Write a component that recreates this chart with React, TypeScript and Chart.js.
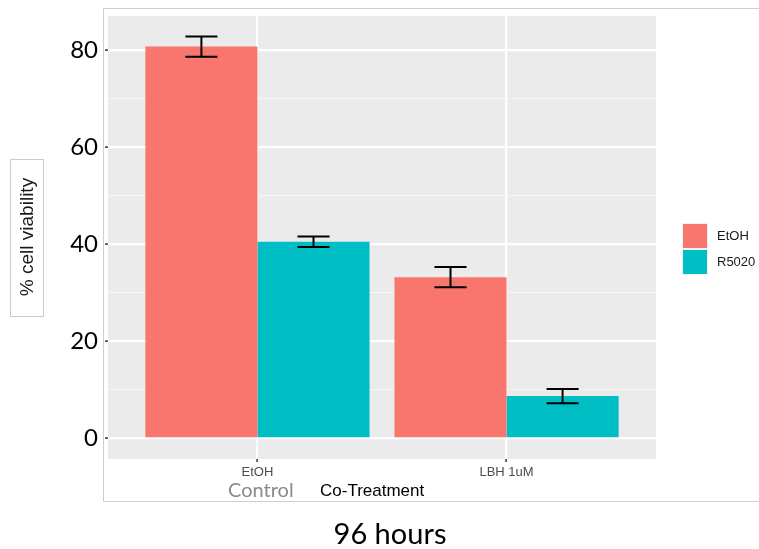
import React, { useEffect, useRef } from "react";
import { Chart, registerables } from "chart.js";

Chart.register(...registerables);

const categories = ["EtOH", "LBH 1uM"];
const categoryPositions = [1, 2];
const seriesNames = ["EtOH", "R5020"];
const etohValues = [80.7, 33.2];
const r5020Values = [40.5, 8.7];
const etohErrors = [2.1, 2.1];
const r5020Errors = [1.1, 1.45];
const seriesColors = ["#F8766D", "#00BFC4"];
const yTicks = [0, 10, 20, 30, 40, 50, 60, 70, 80];

const W = 759;
const H = 549;

const decorPlugin = {
  id: "decor",
  beforeDraw(chart: any) {
    const { ctx, chartArea } = chart;
    ctx.save();
    ctx.fillStyle = "#ffffff";
    ctx.fillRect(0, 0, W, H);
    // outer frame
    ctx.strokeStyle = "#CFCFCF";
    ctx.lineWidth = 1;
    ctx.beginPath();
    ctx.moveTo(W, 8.5);
    ctx.lineTo(103.5, 8.5);
    ctx.lineTo(103.5, 501.5);
    ctx.lineTo(W, 501.5);
    ctx.stroke();
    // panel
    ctx.fillStyle = "#EBEBEB";
    ctx.fillRect(chartArea.left, chartArea.top, chartArea.right - chartArea.left, chartArea.bottom - chartArea.top);
    ctx.restore();
  },
  afterDatasetsDraw(chart: any) {
    const { ctx } = chart;
    const yScale = chart.scales.y;
    const errs = [etohErrors, r5020Errors];
    const vals = [etohValues, r5020Values];
    ctx.save();
    ctx.strokeStyle = "#000000";
    ctx.lineWidth = 2;
    chart.data.datasets.forEach((_: any, di: number) => {
      const meta = chart.getDatasetMeta(di);
      meta.data.forEach((bar: any, i: number) => {
        const x = bar.x;
        const hw = bar.width * 0.143;
        const yTop = yScale.getPixelForValue(vals[di][i] + errs[di][i]);
        const yBot = yScale.getPixelForValue(vals[di][i] - errs[di][i]);
        ctx.beginPath();
        ctx.moveTo(x - hw, yTop);
        ctx.lineTo(x + hw, yTop);
        ctx.moveTo(x, yTop);
        ctx.lineTo(x, yBot);
        ctx.moveTo(x - hw, yBot);
        ctx.lineTo(x + hw, yBot);
        ctx.stroke();
      });
    });
    ctx.restore();
  },
  afterDraw(chart: any) {
    const { ctx } = chart;
    ctx.save();
    // y title box
    ctx.fillStyle = "#ffffff";
    ctx.fillRect(10, 159, 34, 158);
    ctx.strokeStyle = "#CCCCCC";
    ctx.lineWidth = 1;
    ctx.strokeRect(10.5, 159.5, 33, 157);
    ctx.translate(28, 237);
    ctx.rotate(-Math.PI / 2);
    ctx.fillStyle = "#1a1a1a";
    ctx.font = "19px 'Liberation Sans', Arial, sans-serif";
    ctx.textAlign = "center";
    ctx.textBaseline = "middle";
    ctx.fillText("% cell viability", 0, 0);
    ctx.restore();

    ctx.save();
    ctx.textBaseline = "alphabetic";
    ctx.textAlign = "left";
    ctx.fillStyle = "#8A8A8A";
    ctx.font = "20px Lato, sans-serif";
    ctx.fillText("Control", 228, 497);
    ctx.fillStyle = "#000000";
    ctx.font = "17px 'Liberation Sans', Arial, sans-serif";
    ctx.fillText("Co-Treatment", 320, 496);
    ctx.font = "29px Lato, sans-serif";
    ctx.textAlign = "center";
    ctx.fillText("96 hours", 390, 544);

    // legend
    const keyX = 682;
    const keyY = [223, 249];
    seriesNames.forEach((name, i) => {
      ctx.fillStyle = seriesColors[i];
      ctx.fillRect(keyX, keyY[i], 26, 26);
      ctx.strokeStyle = "#F2F2F2";
      ctx.lineWidth = 1;
      ctx.strokeRect(keyX + 0.5, keyY[i] + 0.5, 25, 25);
      ctx.fillStyle = "#1a1a1a";
      ctx.font = "13px 'Liberation Sans', Arial, sans-serif";
      ctx.textAlign = "left";
      ctx.textBaseline = "middle";
      ctx.fillText(name, 717, keyY[i] + 13.5);
    });
    ctx.restore();
  },
};

export default function App() {
  const canvasRef = useRef<HTMLCanvasElement | null>(null);

  useEffect(() => {
    document.body.style.margin = "0";
    const canvas = canvasRef.current;
    if (!canvas) return;
    const chart = new Chart(canvas, {
      type: "bar",
      data: {
        datasets: [
          {
            label: seriesNames[0],
            data: categoryPositions.map((x, i) => ({ x, y: etohValues[i] })),
            backgroundColor: seriesColors[0],
            borderWidth: 0,
          },
          {
            label: seriesNames[1],
            data: categoryPositions.map((x, i) => ({ x, y: r5020Values[i] })),
            backgroundColor: seriesColors[1],
            borderWidth: 0,
          },
        ],
      },
      options: {
        animation: false,
        responsive: false,
        devicePixelRatio: 1,
        categoryPercentage: 0.9,
        barPercentage: 1.0,
        layout: { padding: { top: 16, right: 103, left: 0, bottom: 0 } },
        plugins: { legend: { display: false }, tooltip: { enabled: false } },
        scales: {
          x: {
            type: "linear",
            min: 0.4,
            max: 2.6,
            offset: false,
            afterBuildTicks: (s: any) => {
              s.ticks = categoryPositions.map((v) => ({ value: v }));
            },
            afterFit: (s: any) => {
              s.height = 90;
              s.paddingLeft = 0;
              s.paddingRight = 0;
              s.paddingTop = 0;
              s.paddingBottom = 0;
            },
            ticks: {
              callback: (v: any) => categories[categoryPositions.indexOf(Number(v))] ?? "",
              font: { family: "'Liberation Sans', Arial, sans-serif", size: 13 },
              color: "#4D4D4D",
              padding: 3,
              maxRotation: 0,
              autoSkip: false,
            },
            grid: {
              color: "#ffffff",
              lineWidth: 2.2,
              tickColor: "#333333",
              tickLength: 3,
              tickWidth: 1.5,
              offset: false,
            },
            border: { display: false },
          } as any,
          y: {
            type: "linear",
            min: -4.26,
            max: 87.0,
            afterBuildTicks: (s: any) => {
              s.ticks = yTicks.map((v) => ({ value: v }));
            },
            afterFit: (s: any) => {
              s.width = 108;
              s.paddingLeft = 0;
              s.paddingRight = 0;
              s.paddingTop = 0;
              s.paddingBottom = 0;
            },
            ticks: {
              callback: (v: any) => (Number(v) % 20 === 0 ? String(v) : ""),
              font: { family: "Lato, sans-serif", size: 24 },
              color: "#000000",
              padding: 7,
              autoSkip: false,
            },
            grid: {
              color: (c: any) => (c.tick && c.tick.value % 20 === 0 ? "#ffffff" : "#F7F7F7"),
              lineWidth: (c: any) => (c.tick && c.tick.value % 20 === 0 ? 2.2 : 1.1),
              tickColor: (c: any) => (c.tick && c.tick.value % 20 === 0 ? "#333333" : "rgba(0,0,0,0)"),
              tickLength: 3,
              tickWidth: 1.5,
            },
            border: { display: false },
          } as any,
        },
      },
      plugins: [decorPlugin],
    });
    return () => chart.destroy();
  }, []);

  return (
    <div style={{ position: "absolute", left: 0, top: 0, width: W, height: H }}>
      <canvas ref={canvasRef} width={W} height={H} style={{ width: W, height: H, display: "block" }} />
    </div>
  );
}
